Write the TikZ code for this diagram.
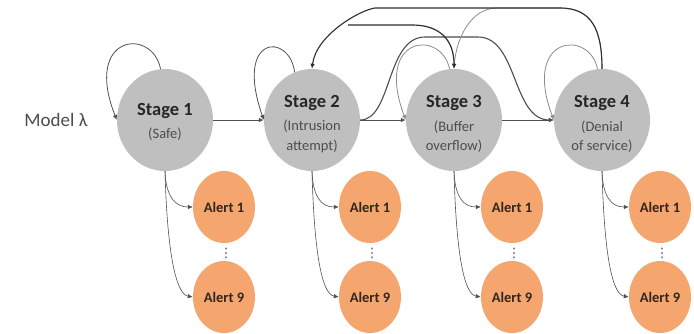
\documentclass[tikz,border=0pt]{standalone}
\usepackage{fontspec}
\setmainfont{Carlito}
\newfontfamily\dotsfont{DejaVu Sans}
\usetikzlibrary{shapes.geometric,arrows.meta}
\definecolor{stagefill}{HTML}{BFBFBF}
\definecolor{alertfill}{HTML}{F5A66F}
\definecolor{stagetext}{HTML}{262626}
\definecolor{subtext}{HTML}{4D4D4D}
\definecolor{alerttext}{HTML}{33261A}
\definecolor{edge}{HTML}{505050}
\definecolor{edgedark}{HTML}{2E2E2E}
\definecolor{edgelight}{HTML}{8C8C8C}
\newcommand{\stagetitle}[1]{{\fontsize{18.5}{18.5}\selectfont\bfseries\color{stagetext}#1}\\[4pt]}
\begin{document}
\begin{tikzpicture}[x=1pt,y=-1pt,
  stagenode/.style={ellipse, fill=stagefill, minimum width=96pt, minimum height=102pt, inner sep=0pt},
  stagelabel/.style={align=center, inner sep=0pt, font=\fontsize{14.5}{19.5}\selectfont, text=subtext},
  alertnode/.style={ellipse, fill=alertfill, minimum width=62pt, minimum height=72pt,
    inner sep=0pt, font=\fontsize{14.5}{16}\selectfont\bfseries, text=alerttext},
  vdotsnode/.style={font=\dotsfont\fontsize{13}{13}\selectfont, text=subtext, inner sep=0pt},
  tip/.style={-{Latex[length=5pt,width=4.5pt]}},
  link/.style={tip, draw=edge, line width=0.8pt},
  heavylink/.style={tip, draw=edgedark, line width=1.2pt},
  lightlink/.style={tip, draw=edgelight, line width=0.8pt},
  alertlink/.style={tip, draw=edge, line width=0.6pt}]

\fill[white] (0,0) rectangle (694,333);
\useasboundingbox (0,0) rectangle (694,333);

% model name
\node[font=\fontsize{19}{20}\selectfont, text=subtext] (model) at (56,120) {Model λ};

% stages and their captions
\foreach \s/\x in {1/165,2/312,3/454,4/602}
  \node[stagenode] (s\s) at (\x,120) {};
\node[stagelabel] (t1) at (165,122) {\stagetitle{Stage 1}(Safe)};
\node[stagelabel] (t2) at (312,124) {\stagetitle{Stage 2}(Intrusion\\attempt)};
\node[stagelabel] (t3) at (454,124) {\stagetitle{Stage 3}(Buffer\\overflow)};
\node[stagelabel] (t4) at (602,124) {\stagetitle{Stage 4}(Denial\\of service)};

% observable alerts of each stage
\foreach \s/\x in {1/224,2/370,3/512,4/660}{
  \node[alertnode] (a\s1) at (\x,207) {Alert 1};
  \node[alertnode] (a\s9) at (\x,297) {Alert 9};
  \node[vdotsnode] (d\s) at (\x+2,253) {⋮};
  \draw[alertlink] (s\s.south) .. controls +(1,25) and +(-18,0) .. (a\s1.west);
  \draw[alertlink] (s\s.south) .. controls +(2,75) and +(-18,-3) .. (a\s9.west);
}

% forward transitions
\draw[link] (s1.east) -- (s2.west);
\draw[link] (s2.east) -- (s3.west);
\draw[link] (s3.east) -- (s4.west);

% self transitions
\draw[link] (s1.95) .. controls +(-8,-42) and +(-34,-86) .. (s1.west);
\draw[link] (s2.110) .. controls +(-5,-40) and +(-30,-86) .. (s2.west);
\draw[lightlink] (s3.95) .. controls +(-8,-40) and +(-32,-85) .. (s3.west);
\draw[lightlink] (s4.95) .. controls +(-8,-40) and +(-32,-85) .. (s4.west);

% skip and return transitions over the top
\draw[link, line width=1.1pt, draw=edgedark!85] (s2.east) .. controls (392,120) and (386,37) .. (425,37)
  -- (478,37) .. controls (518,37) and (512,120) .. (s4.west);
\draw[lightlink] (s4.north) .. controls (602,30) and (592,8) .. (560,8)
  -- (497,8) .. controls (470,8) and (456,40) .. (s3.north);
\draw[heavylink, line width=1.1pt] (s4.north) .. controls (602,30) and (592,8) .. (560,8)
  -- (375,8) .. controls (360,10) and (316,35) .. (s2.north);
\coordinate (d0) at (348,25);
\draw[heavylink] (d0) -- (412,25) .. controls (440,25) and (454,40) .. (s3.north);
\end{tikzpicture}
\end{document}
